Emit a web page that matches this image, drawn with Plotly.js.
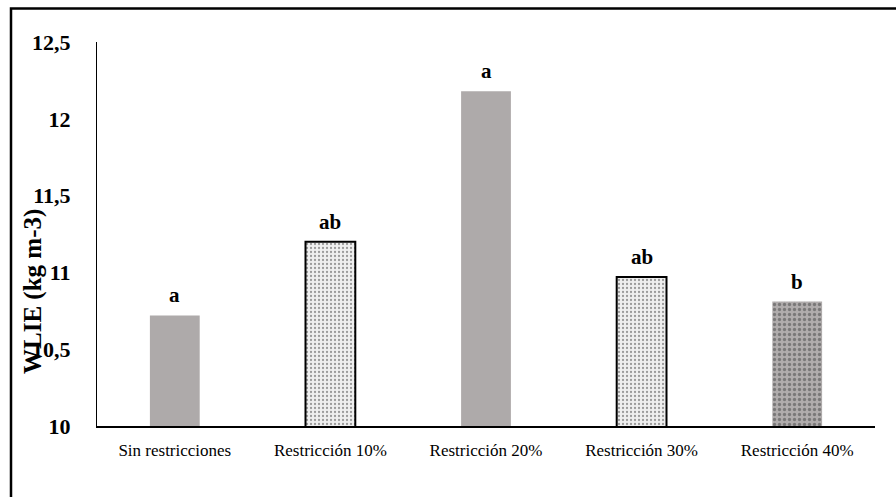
<!DOCTYPE html>
<html>
<head>
<meta charset="utf-8">
<script src="https://cdn.plot.ly/plotly-3.0.1.min.js"></script>
<style>
  html, body { margin: 0; padding: 0; background: #fff; }
  #chart { width: 896px; height: 497px; }
</style>
</head>
<body>
<div id="chart"></div>
<script>
const categories = ["Sin restricciones", "Restricción 10%", "Restricción 20%", "Restricción 30%", "Restricción 40%"];
const values = [10.72, 11.20, 12.18, 10.97, 10.81];
const letters = ["a", "ab", "a", "ab", "b"];
const yTickVals = [10, 10.5, 11, 11.5, 12, 12.5];
const yTickText = ["10", "10,5", "11", "11,5", "12", "12,5"];

const serif = "Liberation Serif";

const fillColors = ["#aeaaaa", "#efefef", "#aeaaaa", "#efefef", "#b0acac"];
const lineColors = ["#aeaaaa", "#000000", "#aeaaaa", "#000000", "#aeaaaa"];
const lineWidths = [0, 2, 0, 2, 0];
const patShapes = ["", ".", "", ".", "."];
const patFg = ["#aeaaaa", "#e3e3e3", "#aeaaaa", "#e3e3e3", "#ffffff"];
const patSize = [6, 4, 6, 4, 5];
const patSolid = [0.3, 0.25, 0.3, 0.25, 0.35];

const trace = {
  type: "bar",
  x: categories,
  y: values,
  base: 0,
  width: 0.32,
  marker: {
    color: fillColors,
    line: { color: lineColors, width: lineWidths },
    pattern: { shape: patShapes, fgcolor: patFg, size: patSize, solidity: patSolid, fillmode: "overlay" }
  },
  hoverinfo: "none"
};

const annotations = categories.map((c, i) => ({
  x: c, y: values[i], xref: "x", yref: "y",
  text: "<b>" + letters[i] + "</b>",
  showarrow: false, yanchor: "bottom", yshift: 6,
  font: { family: serif, size: 21, color: "#000" }
}));

annotations.push({
  xref: "paper", yref: "paper",
  x: (33 - 97) / 778, y: (426 - 292) / 384,
  text: "<b>WLIE (kg m-3)</b>", textangle: -90,
  showarrow: false, xanchor: "center", yanchor: "middle",
  font: { family: serif, size: 25, color: "#000" }
});

const layout = {
  width: 896, height: 497,
  margin: { l: 97, r: 21, t: 42, b: 71 },
  paper_bgcolor: "#ffffff", plot_bgcolor: "#ffffff",
  font: { family: serif, color: "#000" },
  showlegend: false,
  xaxis: {
    type: "category",
    showline: true, linecolor: "#000", linewidth: 2,
    showgrid: false, zeroline: false, ticks: "",
    tickfont: { family: serif, size: 17, color: "#000" },
    ticklabelstandoff: 8
  },
  yaxis: {
    range: [10, 12.5],
    tickvals: yTickVals, ticktext: yTickText.map(t => "<b>" + t + "</b>"),
    showline: true, linecolor: "#000", linewidth: 1,
    showgrid: false, zeroline: false, ticks: "",
    tickfont: { family: serif, size: 22, color: "#000" },
    ticklabelstandoff: 21
  },
  annotations: annotations,
  shapes: [{
    type: "rect", xref: "paper", yref: "paper",
    x0: (11 - 97) / 778, x1: (940 - 97) / 778,
    y0: (426 - 540) / 384, y1: (426 - 8.5) / 384,
    line: { color: "#000", width: 2.5 }, fillcolor: "rgba(0,0,0,0)", layer: "below"
  }]
};

Plotly.newPlot("chart", [trace], layout, { displayModeBar: false, staticPlot: true });
</script>
</body>
</html>
